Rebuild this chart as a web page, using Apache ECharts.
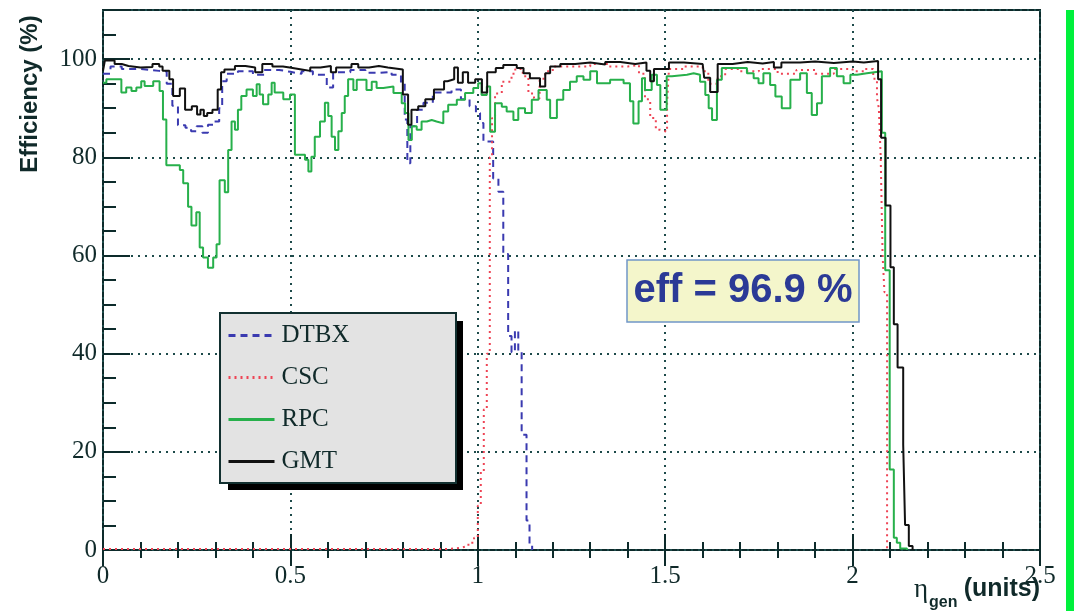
<!DOCTYPE html>
<html><head><meta charset="utf-8">
<script src="https://cdn.jsdelivr.net/npm/echarts@6/dist/echarts.min.js"></script>
<style>html,body{margin:0;padding:0;background:#fff}#c{width:1074px;height:611px}</style>
</head><body><div id="c"></div>
<script>
// tick labels
const xTicks = [0, 0.5, 1, 1.5, 2, 2.5];
const yTicks = [0, 20, 40, 60, 80, 100];
const seriesNames = ['DTBX', 'CSC', 'RPC', 'GMT'];

// [eta bin left edge, efficiency %]
const dtbx = [[0,97],[0.02,98.5],[0.05,98],[0.1,97.6],[0.15,97.5],[0.17,95],[0.185,90.5],[0.2,86.5],[0.22,86],[0.235,85.3],
[0.25,86.3],[0.265,85],[0.28,86.6],[0.295,87.3],[0.31,90],[0.318,95.5],[0.33,97],[0.36,97.5],[0.4,96.8],[0.43,97.8],
[0.47,97.4],[0.5,97],[0.53,97.5],[0.56,96.8],[0.597,94.2],[0.614,97.3],[0.66,97.8],[0.7,97.2],[0.74,97.4],[0.77,96.8],
[0.795,95],[0.805,87.7],[0.812,78.8],[0.82,86.3],[0.838,89.7],[0.855,91.1],[0.88,93.2],[0.93,93.8],[0.955,91.8],[0.978,90.4],
[0.995,89],[1.006,87],[1.015,83.2],[1.041,75.7],[1.055,73],[1.068,60.3],[1.081,43.6],[1.09,40.3],[1.099,44.7],[1.108,40.3],
[1.117,23.5],[1.13,6],[1.138,1],[1.145,0]];

const csc = [[0,0.2],[0.92,0.4],[0.95,0.8],[0.975,1.5],[0.99,2.5],[1.0,9],[1.008,16],[1.016,28.6],[1.024,40],[1.032,80],
[1.038,88],[1.046,93],[1.064,95.4],[1.09,97],[1.1,98],[1.12,96.5],[1.135,93],[1.15,92],[1.165,96],[1.18,97.5],
[1.2,98.5],[1.25,98.5],[1.3,99],[1.35,98.5],[1.4,98.8],[1.43,97],[1.446,91.8],[1.46,88],[1.475,85.6],[1.487,85.2],
[1.505,91],[1.51,98],[1.55,98.5],[1.6,97.5],[1.615,95],[1.64,96.5],[1.66,98],[1.7,97.5],[1.75,98],[1.8,97],
[1.85,97.8],[1.9,97],[1.95,98],[2.0,97.5],[2.03,98],[2.055,96],[2.065,92],[2.07,90],[2.075,80],[2.08,60],
[2.085,52.5],[2.092,0]];

const rpc = [[0,95.2],[0.009,95.9],[0.049,93.2],[0.062,94.2],[0.076,93.5],[0.089,94.2],[0.102,95.5],[0.111,94.5],[0.134,95.5],[0.151,93.5],
[0.16,87.7],[0.169,78.4],[0.205,77.4],[0.214,74.7],[0.227,69.9],[0.236,66.1],[0.249,68.8],[0.258,61.6],[0.267,59.6],[0.28,57.5],
[0.294,59.6],[0.303,62.3],[0.311,75.3],[0.325,72.9],[0.334,81.5],[0.343,87.3],[0.352,85.6],[0.36,89.7],[0.369,92.5],[0.383,93.8],
[0.4,92.5],[0.41,94.9],[0.418,92.8],[0.427,90.8],[0.441,92.8],[0.45,95.2],[0.458,93.2],[0.481,91.8],[0.499,92.8],[0.512,80.5],
[0.539,79.5],[0.548,77.1],[0.556,80.1],[0.565,84.2],[0.579,87.3],[0.592,91.1],[0.601,88.4],[0.61,84.2],[0.619,81.5],[0.628,85.3],
[0.637,89],[0.645,92.5],[0.654,95.9],[0.668,93.7],[0.677,95.8],[0.703,93.7],[0.717,95.4],[0.73,94.1],[0.748,94.4],[0.775,93.1],
[0.797,91],[0.806,89],[0.815,83.5],[0.824,86.3],[0.837,85.6],[0.85,87.3],[0.864,87.6],[0.877,87.3],[0.89,86.9],[0.908,89.3],
[0.921,90.7],[0.944,91.7],[0.966,93.1],[0.988,94.1],[1.001,95.1],[1.01,92.7],[1.024,94.4],[1.033,85.2],[1.046,91],[1.064,90.3],
[1.077,89.3],[1.095,87.6],[1.108,90],[1.126,89],[1.144,91.7],[1.162,93.7],[1.184,91.7],[1.193,88],[1.211,91.7],[1.228,93.7],
[1.246,95.4],[1.264,96.5],[1.282,95.8],[1.3,97.5],[1.318,95.1],[1.353,95.8],[1.389,95.1],[1.406,91.4],[1.415,86.9],[1.429,91.4],
[1.438,96.1],[1.446,93.7],[1.464,96.8],[1.478,94.7],[1.487,89.7],[1.504,96.5],[1.518,96.8],[1.558,97.1],[1.576,96.8],[1.593,95.4],
[1.607,92.7],[1.616,90],[1.625,87.6],[1.638,95.8],[1.651,98.2],[1.718,97.1],[1.736,96.1],[1.749,95.1],[1.762,97.1],[1.78,94.7],
[1.794,92.4],[1.811,90],[1.834,95.8],[1.86,97.1],[1.878,93.1],[1.891,88.6],[1.905,91],[1.918,96.5],[1.94,98.2],[1.958,96.5],
[1.976,95.1],[1.994,96.8],[2.012,97.1],[2.038,97.5],[2.078,85],[2.087,57],[2.099,16.4],[2.11,2.5],[2.118,1.5],
[2.127,0.3],[2.145,0]];

const gmt = [[0,97.6],[0.005,99.7],[0.031,99],[0.05,98.6],[0.068,98.3],[0.1,98.4],[0.132,99],[0.15,98.5],[0.159,97.6],[0.177,95.9],
[0.187,92.5],[0.205,94],[0.219,89.7],[0.237,90.4],[0.251,88.7],[0.26,89.7],[0.269,88.4],[0.278,89],[0.292,89.7],[0.306,93.8],
[0.315,97.3],[0.324,97.9],[0.352,98.6],[0.38,98.3],[0.406,97.3],[0.425,99],[0.452,98.5],[0.48,98.3],[0.498,97.9],[0.53,97.6],
[0.553,98.3],[0.58,98.6],[0.608,97.3],[0.622,98.3],[0.663,99],[0.681,98.3],[0.71,98.6],[0.736,98.3],[0.76,97.9],[0.8,92.8],
[0.814,86.6],[0.823,89.7],[0.841,90.4],[0.86,91.8],[0.883,93.8],[0.91,95.5],[0.919,95.9],[0.937,98.3],[0.947,95.2],[0.96,97.3],
[0.974,95.2],[0.993,95.9],[1.011,93.2],[1.025,97.3],[1.048,98.2],[1.068,98.8],[1.104,98.2],[1.122,97.1],[1.139,96.1],[1.166,94.4],
[1.18,97.1],[1.193,98.5],[1.22,99],[1.26,99.3],[1.3,98.9],[1.34,99.4],[1.38,99],[1.42,99.3],[1.45,97.6],[1.46,95.5],
[1.47,98],[1.51,99.3],[1.55,99],[1.6,99.3],[1.604,96.2],[1.62,93.3],[1.64,99],[1.68,99.4],[1.72,99.1],[1.76,99.4],
[1.79,98.3],[1.81,99.3],[1.86,99.5],[1.9,99.2],[1.95,99.5],[2.0,99.3],[2.03,99.6],[2.068,95.9],[2.076,84],[2.088,70.2],
[2.101,57.6],[2.11,46],[2.12,37.2],[2.135,21.5],[2.14,5.1],[2.15,0.8],[2.16,0]];

const effText = 'eff = 96.9 %';

const frame = '#0d2b2b';
const txtCol = '#102a2a';
const gridDot = {color: '#1d4a4a', width: 2, type: [2, 5]};
const tickStyle = {color: frame, width: 2};

const chart = echarts.init(document.getElementById('c'));
const mk = (name, data, color, type, z) => ({
  name, type: 'line', step: 'end', data, symbol: 'none', showSymbol: false,
  lineStyle: {color, width: 2, type}, itemStyle: {color}, z
});

chart.setOption({
  animation: false,
  grid: {left: 103, right: 34, top: 10, bottom: 61, show: true, borderColor: frame, borderWidth: 2, backgroundColor: 'transparent'},
  xAxis: [
    {type: 'value', min: 0, max: 2.5, interval: 0.5, axisLine: {show: false},
     axisTick: {inside: true, length: 16, lineStyle: tickStyle},
     minorTick: {show: true, splitNumber: 5, length: 8, lineStyle: tickStyle},
     splitLine: {show: true, lineStyle: gridDot},
     axisLabel: {margin: 14, fontFamily: 'Liberation Serif', fontSize: 25, color: txtCol,
       formatter: v => xTicks.indexOf(+v.toFixed(2)) >= 0 ? String(+v.toFixed(2)) : ''}},
    {type: 'value', position: 'top', min: 0, max: 2.5, interval: 0.5, axisLine: {show: false},
     axisTick: {inside: true, length: 16, lineStyle: tickStyle},
     minorTick: {show: true, splitNumber: 5, length: 8, lineStyle: tickStyle},
     splitLine: {show: false}, axisLabel: {show: false}}
  ],
  yAxis: [
    {type: 'value', min: 0, max: 110, interval: 20, axisLine: {show: false},
     axisTick: {inside: true, length: 27, lineStyle: tickStyle},
     splitLine: {show: true, lineStyle: gridDot},
     axisLabel: {margin: 6, fontFamily: 'Liberation Serif', fontSize: 25, color: txtCol,
       formatter: v => yTicks.indexOf(v) >= 0 ? String(v) : ''}},
    {type: 'value', min: 0, max: 110, interval: 5, position: 'left', offset: 0, axisLine: {show: false},
     axisTick: {inside: true, length: 13, lineStyle: tickStyle},
     splitLine: {show: false}, axisLabel: {show: false}}
  ],
  legend: {
    data: seriesNames, orient: 'vertical', left: 227, top: 323, itemWidth: 46, itemHeight: 20, itemGap: 17,
    padding: 0, selectedMode: false, z: 60,
    itemStyle: {opacity: 0, borderWidth: 0},
    lineStyle: {width: 3},
    textStyle: {fontFamily: 'Liberation Serif', fontSize: 25, color: txtCol, padding: [0, 0, 0, 2]}
  },
  series: [
    mk(seriesNames[0], dtbx, '#3a3ab0', [7, 5], 3),
    mk(seriesNames[1], csc, '#ee4455', [2, 4], 4),
    mk(seriesNames[2], rpc, '#27b04b', 'solid', 5),
    mk(seriesNames[3], gmt, '#111111', 'solid', 6)
  ],
  graphic: [
    {type: 'rect', z: 50, shape: {x: 228, y: 321, width: 235, height: 169}, style: {fill: '#000'}},
    {type: 'rect', z: 51, shape: {x: 220, y: 313, width: 236, height: 170}, style: {fill: '#e3e3e3', stroke: '#123030', lineWidth: 2}},
    {type: 'rect', z: 50, shape: {x: 627, y: 260, width: 232, height: 62}, style: {fill: '#f4f6cb', stroke: '#7096c8', lineWidth: 1.5}},
    {type: 'text', z: 52, x: 743, y: 291, style: {text: effText, font: 'bold 40px "Liberation Sans", Arial, sans-serif',
      fill: '#2b3a96', textAlign: 'center', textVerticalAlign: 'middle', align: 'center', verticalAlign: 'middle'}},
    {type: 'text', z: 52, x: 30, y: 94, rotation: Math.PI / 2, style: {text: 'Efficiency (%)', font: 'bold 24px "Liberation Sans", Arial, sans-serif',
      fill: txtCol, textAlign: 'center', textVerticalAlign: 'middle', align: 'center', verticalAlign: 'middle'}},
    {type: 'text', z: 52, x: 921, y: 590, style: {text: 'η', font: '27px "Liberation Serif", serif',
      fill: txtCol, textAlign: 'center', textVerticalAlign: 'middle', align: 'center', verticalAlign: 'middle'}},
    {type: 'text', z: 52, x: 929, y: 603, style: {text: 'gen', font: 'bold 16px "Liberation Sans", Arial, sans-serif',
      fill: txtCol, textAlign: 'left', textVerticalAlign: 'middle', align: 'left', verticalAlign: 'middle'}},
    {type: 'text', z: 52, x: 1040, y: 589, style: {text: '(units)', font: 'bold 25px "Liberation Sans", Arial, sans-serif',
      fill: txtCol, textAlign: 'right', textVerticalAlign: 'middle', align: 'right', verticalAlign: 'middle'}},
    {type: 'rect', z: 50, shape: {x: 1066, y: 10, width: 8, height: 601}, style: {fill: '#00f03c'}}
  ]
});
</script></body></html>
